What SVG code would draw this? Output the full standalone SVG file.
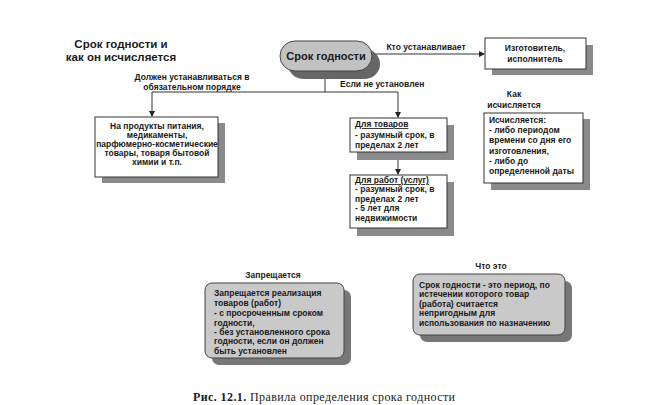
<svg xmlns="http://www.w3.org/2000/svg" width="658" height="405" viewBox="0 0 658 405">
<defs>
<marker id="ah" markerWidth="6" markerHeight="6" refX="5" refY="3" orient="auto" markerUnits="userSpaceOnUse">
<path d="M0,0 L6,3 L0,6 z" fill="#222"/>
</marker>
<style>
.t{font-family:"Liberation Sans",Arial,sans-serif;font-weight:bold;font-size:8.5px;fill:#1a1a1a}
.c{text-anchor:middle}
.ttl{font-family:"Liberation Sans",Arial,sans-serif;font-weight:bold;font-size:11.5px;fill:#1a1a1a;text-anchor:middle}
.box{fill:#fff;stroke:#333;stroke-width:1}
.sh{fill:#8a8a8a}
.rbox{fill:#c9c9c9;stroke:#444;stroke-width:1}
.rsh{fill:#777}
.ln{fill:none;stroke:#333;stroke-width:1}
.cap{font-family:"Liberation Serif","Times New Roman",serif;font-size:12px;fill:#1a1a1a}
</style>
</defs>
<rect width="658" height="405" fill="#fff"/>

<g id="title">
<text class="ttl" x="121" y="48">Срок годности и</text>
<text class="ttl" x="121" y="61">как он исчисляется</text>
</g>

<g id="connectors">
<line class="ln" x1="372" y1="54" x2="484" y2="54" marker-end="url(#ah)"/>
<line class="ln" x1="325" y1="71" x2="325" y2="92"/>
<polyline class="ln" points="152,92 398,92 398,117" marker-end="url(#ah)"/>
<line class="ln" x1="152" y1="92" x2="152" y2="116" marker-end="url(#ah)"/>
<line class="ln" x1="398" y1="152" x2="398" y2="174" marker-end="url(#ah)"/>
<text class="t" x="426" y="50" text-anchor="middle">Кто устанавливает</text>
<text class="t c" x="192" y="80">Должен устанавливаться в</text>
<text class="t c" x="192" y="90">обязательном порядке</text>
<text class="t" x="340" y="87">Если не установлен</text>
<text class="t c" x="514" y="97">Как</text>
<text class="t c" x="514" y="108">исчисляется</text>
<text class="t c" x="273" y="278">Запрещается</text>
<text class="t c" x="491" y="269">Что это</text>
</g>

<g id="n-main">
<rect x="288" y="49" width="92" height="30" rx="15" fill="#666"/>
<rect x="280" y="41" width="92" height="30" rx="15" fill="#c2c2c2" stroke="#444"/>
<text x="326" y="60" text-anchor="middle" font-family="Liberation Sans,Arial,sans-serif" font-weight="bold" font-size="11" fill="#1a1a1a">Срок годности</text>
</g>

<g id="n-maker">
<rect class="sh" x="492" y="45" width="101" height="30"/>
<rect class="box" x="485" y="38" width="101" height="31"/>
<text class="t c" x="535" y="51">Изготовитель,</text>
<text class="t c" x="535" y="62">исполнитель</text>
</g>

<g id="n-products">
<rect class="sh" x="102" y="123" width="123" height="60"/>
<rect class="box" x="95" y="117" width="123" height="60"/>
<text class="t c" x="157" y="129">На продукты питания,</text>
<text class="t c" x="157" y="138">медикаменты,</text>
<text class="t c" x="157" y="147">парфюмерно-косметические</text>
<text class="t c" x="157" y="156">товары,  товаря бытовой</text>
<text class="t c" x="157" y="165">химии и т.п.</text>
</g>

<g id="n-goods">
<rect class="sh" x="357" y="125" width="97" height="35"/>
<rect class="box" x="350" y="118" width="97" height="34"/>
<text class="t" x="355" y="127" text-decoration="underline">Для товаров</text>
<text class="t" x="355" y="138">- разумный срок,  в</text>
<text class="t" x="355" y="148">пределах 2 лет</text>
</g>

<g id="n-works">
<rect class="sh" x="357" y="182" width="97" height="54"/>
<rect class="box" x="350" y="175" width="97" height="53"/>
<text class="t" x="355" y="183" text-decoration="underline">Для работ (услуг)</text>
<text class="t" x="355" y="192">- разумный срок,  в</text>
<text class="t" x="355" y="202">пределах 2 лет</text>
<text class="t" x="355" y="211">-  5 лет для</text>
<text class="t" x="355" y="221">недвижимости</text>
</g>

<g id="n-calc">
<rect class="sh" x="491" y="119" width="99" height="71"/>
<rect class="box" x="484" y="113" width="99" height="70"/>
<text class="t" x="489" y="123">Исчисляется:</text>
<text class="t" x="489" y="133">- либо периодом</text>
<text class="t" x="489" y="143">времени со дня его</text>
<text class="t" x="489" y="154">изготовления,</text>
<text class="t" x="489" y="164">- либо до</text>
<text class="t" x="489" y="174">определенной даты</text>
</g>

<g id="n-forbidden">
<rect class="rsh" x="212" y="290" width="139" height="75" rx="7"/>
<rect class="rbox" x="205" y="283" width="139" height="75" rx="7"/>
<text class="t" x="214" y="296">Запрещается  реализация</text>
<text class="t" x="214" y="306">товаров (работ)</text>
<text class="t" x="214" y="316">- с просроченным сроком</text>
<text class="t" x="214" y="326">годности,</text>
<text class="t" x="214" y="335">- без установленного срока</text>
<text class="t" x="214" y="344">годности, если он должен</text>
<text class="t" x="214" y="354">быть установлен</text>
</g>

<g id="n-whatis">
<rect class="rsh" x="420" y="281" width="152" height="61" rx="7"/>
<rect class="rbox" x="413" y="274" width="152" height="61" rx="7"/>
<text class="t" x="419" y="288">Срок годности - это период, по</text>
<text class="t" x="419" y="297">истечении которого товар</text>
<text class="t" x="419" y="307">(работа) считается</text>
<text class="t" x="419" y="316">непригодным для</text>
<text class="t" x="419" y="326">использования по назначению</text>
</g>

<g id="caption">
<text class="cap" x="193" y="401" textLength="262" lengthAdjust="spacing"><tspan font-weight="bold">Рис.  12.1.</tspan> Правила определения срока годности</text>
</g>
</svg>
